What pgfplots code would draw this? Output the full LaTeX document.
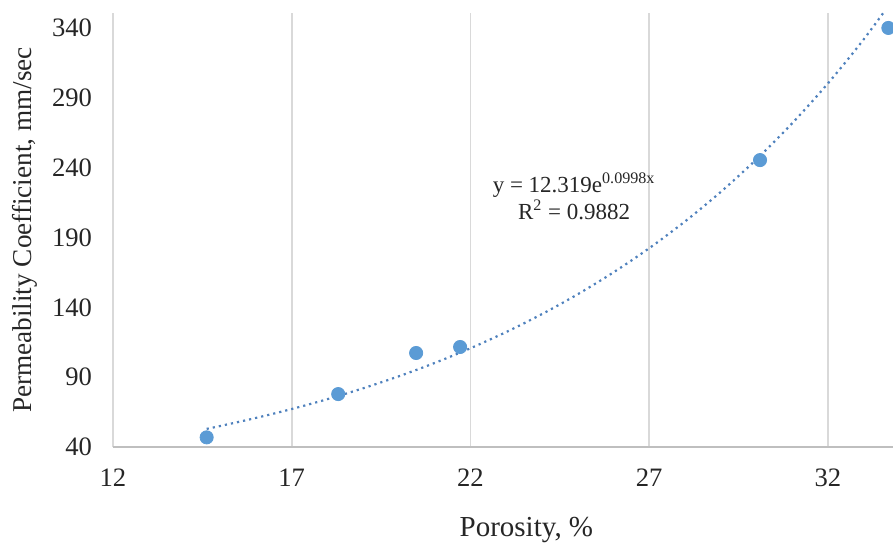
\documentclass[border=0pt]{standalone}
\usepackage{fontspec}
\setmainfont{Liberation Serif}
\usepackage{pgfplots}
\pgfplotsset{compat=1.18}
\definecolor{excelblue}{HTML}{5B9BD5}
\definecolor{trendblue}{HTML}{4F81BD}
\definecolor{gridgray}{HTML}{D9D9D9}
\definecolor{axisgray}{HTML}{BFBFBF}
\definecolor{txt}{HTML}{262626}
\begin{document}
\begin{tikzpicture}
\begin{axis}[
  scale only axis,
  width=390pt, height=217pt,
  xmin=12, xmax=33.82,
  ymin=40, ymax=350.7,
  xtick={12,17,22,27,32},
  ytick={40,90,140,190,240,290,340},
  major tick length=0pt,
  xmajorgrids=true,
  grid style={gridgray, line width=0.8pt},
  axis x line*=bottom,
  axis y line*=left,
  x axis line style={axisgray, line width=0.8pt, -},
  y axis line style={draw=none},
  /pgf/number format/assume math mode=true,
  ticklabel style={font=\fontsize{13.3}{15}\selectfont, text=txt},
  yticklabel style={xshift=-7pt},
  xticklabel style={yshift=-7.5pt},
  xlabel={Porosity, \%},
  ylabel={Permeability Coefficient, mm/sec},
  xlabel style={font=\fontsize{14.5}{17}\selectfont, text=txt, at={(axis description cs:0.53,-0.191)}, anchor=center},
  ylabel style={font=\fontsize{13.6}{16}\selectfont, text=txt, at={(axis description cs:-0.1128,0.5)}, anchor=center},
  clip=true,
]
% trendline (exponential fit, tabulated)
\addplot[trendblue, line width=1.1pt, dotted, smooth] coordinates {
(14.62,53.0) (15,55.04) (16,60.82) (17,67.20) (18,74.26) (19,82.06) (20,90.66)
(21,100.18) (22,110.70) (23,122.32) (24,135.16) (25,149.34) (26,165.01)
(27,182.32) (28,201.45) (29,222.59) (30,245.96) (31,271.77) (32,300.30)
(33,331.82) (34,366.64)
};
\addplot[only marks, mark=*, mark size=3.3pt, excelblue, mark options={draw=excelblue, fill=excelblue}] coordinates {
(14.62,46.9) (18.30,77.9) (20.48,107.3) (21.71,111.6) (30.10,245.4) (33.69,340)
};
\node[align=center, font=\fontsize{11.5}{13.5}\selectfont, text=txt] at (axis cs:24.9,219.5)
  {y = 12.319e\textsuperscript{0.0998x}\\R\textsuperscript{2} = 0.9882};
\end{axis}
\pgfresetboundingbox
\path ([xshift=-56.5pt,yshift=-50pt]current axis.south west) rectangle ([yshift=6.5pt]current axis.north east);
\end{tikzpicture}
\end{document}
